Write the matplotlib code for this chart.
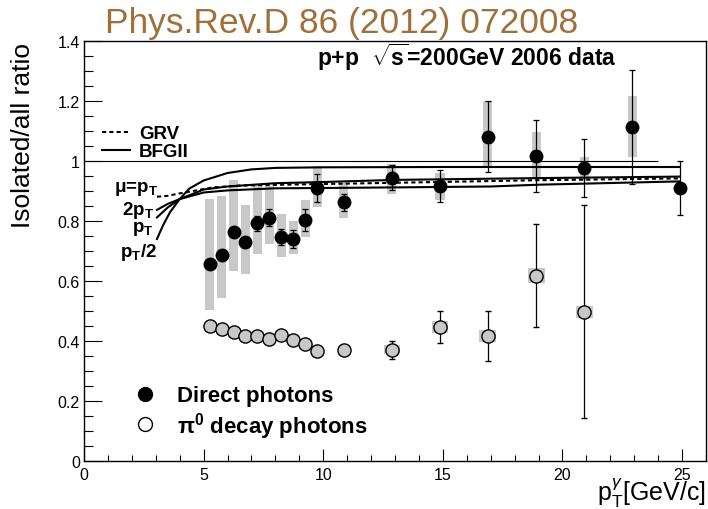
import matplotlib
matplotlib.use('Agg')
import matplotlib.pyplot as plt
from matplotlib.lines import Line2D
from matplotlib.ticker import MultipleLocator, FuncFormatter
import numpy as np

plt.rcParams['font.family'] = ['Liberation Sans', 'DejaVu Sans']
plt.rcParams['mathtext.fontset'] = 'custom'
plt.rcParams['mathtext.rm'] = 'Liberation Sans'
plt.rcParams['mathtext.bf'] = 'Liberation Sans:bold'
plt.rcParams['mathtext.it'] = 'Liberation Sans:italic'
plt.rcParams['mathtext.sf'] = 'Liberation Sans'

# direct photons: isolated/all ratio, stat errors, syst. band edges
pt_dir = [5.25, 5.75, 6.25, 6.75, 7.25, 7.75, 8.25, 8.75, 9.25, 9.75,
          10.85, 12.87, 14.88, 16.88, 18.9, 20.91, 22.91, 24.9]
ratio_dir = [0.657, 0.688, 0.763, 0.729, 0.792, 0.811, 0.748, 0.740, 0.804, 0.910,
             0.862, 0.944, 0.916, 1.081, 1.017, 0.976, 1.112, 0.909]
stat_dir = [0.010, 0.010, 0.012, 0.012, 0.024, 0.028, 0.027, 0.029, 0.037, 0.046,
            0.028, 0.042, 0.053, 0.119, 0.119, 0.097, 0.190, 0.090]
sys_lo_dir = [0.503, 0.543, 0.634, 0.623, 0.690, 0.722, 0.680, 0.690, 0.748, 0.847,
              0.811, 0.890, 0.869, 0.980, 0.943, 0.934, 1.013, 0.905]
sys_hi_dir = [0.873, 0.882, 0.937, 0.852, 0.918, 0.918, 0.823, 0.800, 0.869, 0.984,
              0.926, 0.990, 0.961, 1.200, 1.098, 1.013, 1.216, 0.913]

# pi0 decay photons
pt_pi0 = [5.25, 5.75, 6.25, 6.75, 7.25, 7.75, 8.25, 8.75, 9.25, 9.75,
          10.85, 12.87, 14.88, 16.88, 18.9, 20.91]
ratio_pi0 = [0.449, 0.440, 0.431, 0.418, 0.417, 0.407, 0.421, 0.403, 0.391, 0.368,
             0.370, 0.371, 0.447, 0.416, 0.618, 0.497]
stat_pi0 = [0.005, 0.005, 0.005, 0.005, 0.005, 0.005, 0.005, 0.005, 0.006, 0.006,
            0.008, 0.030, 0.054, 0.083, 0.172, 0.355]
sys_pi0 = [0, 0, 0, 0, 0, 0, 0, 0, 0, 0,
           0, 0.015, 0.02, 0.02, 0.024, 0.02]

# NLO predictions
bfg_half_x = [3.05, 3.3, 3.6, 4.0, 4.4, 5.0, 6.0, 7.0, 8.0, 10.0, 15.0, 20.0, 24.9]
bfg_half_y = [0.740, 0.785, 0.830, 0.873, 0.908, 0.935, 0.960, 0.972, 0.977, 0.979, 0.980, 0.980, 0.980]
bfg_one_x = [3.05, 3.5, 4.0, 5.0, 6.0, 8.0, 10.0, 13.0, 19.0, 24.9]
bfg_one_y = [0.812, 0.845, 0.873, 0.905, 0.915, 0.926, 0.930, 0.937, 0.943, 0.948]
bfg_two_x = [3.05, 3.5, 4.0, 5.0, 6.0, 8.0, 10.0, 13.0, 17.0, 19.0, 24.9]
bfg_two_y = [0.837, 0.857, 0.873, 0.895, 0.902, 0.909, 0.910, 0.912, 0.915, 0.921, 0.932]
grv_x = [3.05, 3.5, 4.0, 5.4, 6.5, 9.0, 12.0, 19.0, 24.9]
grv_y = [0.881, 0.884, 0.892, 0.912, 0.918, 0.922, 0.926, 0.936, 0.942]

gray = '#c8c8c8'

fig = plt.figure(figsize=(7.08, 5.10), dpi=100)
ax = fig.add_axes([84/708, 48/510, 622/708, 420/510])

# systematic boxes
lo = np.array(sys_lo_dir)
hi = np.array(sys_hi_dir)
ax.bar(pt_dir, hi - lo, bottom=lo, width=0.38, color=gray, zorder=1)
sp = np.array(sys_pi0)
ax.bar(pt_pi0, 2 * sp, bottom=np.array(ratio_pi0) - sp, width=0.7, color=gray, zorder=1)

ax.hlines(1.0, 0, 24, color='black', lw=0.8, zorder=2)

grv_line, = ax.plot(grv_x, grv_y, color='black', lw=1.5, dashes=(2, 1.5), zorder=2, label='GRV')
bfg_line, = ax.plot(bfg_one_x, bfg_one_y, color='black', lw=1.5, zorder=2, label='BFGII')
ax.plot(bfg_half_x, bfg_half_y, color='black', lw=1.5, zorder=2)
ax.plot(bfg_two_x, bfg_two_y, color='black', lw=1.5, zorder=2)

ax.errorbar(pt_dir, ratio_dir, yerr=stat_dir, fmt='o', color='black', ms=9,
            capsize=2.5, elinewidth=0.9, capthick=0.9, zorder=4)
ax.errorbar(pt_pi0, ratio_pi0, yerr=stat_pi0, fmt='o', mfc=gray, mec='black', mew=1.0,
            ecolor='black', ms=9.5, capsize=2.5, elinewidth=0.9, capthick=0.9, zorder=4)

# axes style
ax.set_xlim(0, 26)
ax.set_ylim(0, 1.4)
ax.xaxis.set_major_locator(MultipleLocator(5))
ax.xaxis.set_minor_locator(MultipleLocator(1))
ax.yaxis.set_major_locator(MultipleLocator(0.2))
ax.yaxis.set_minor_locator(MultipleLocator(0.05))
fmt = FuncFormatter(lambda v, p: '%g' % round(v, 2))
ax.xaxis.set_major_formatter(fmt)
ax.yaxis.set_major_formatter(fmt)
ax.tick_params(axis='x', which='major', direction='in', length=8.6, width=0.8, labelsize=11.5, pad=4)
ax.tick_params(axis='x', which='minor', direction='in', length=4.3, width=0.8)
ax.tick_params(axis='y', which='major', direction='in', length=13, width=0.8, labelsize=11.5, pad=3)
ax.tick_params(axis='y', which='minor', direction='in', length=6.5, width=0.8)
for s in ax.spines.values():
    s.set_linewidth(1.0)

ax.set_xlabel(r'p$_{\mathrm{T}}^{\gamma}$[GeV/c]', fontsize=18, loc='right', labelpad=-4)
fig.text(23/708, 1 - 43/510, 'Isolated/all ratio', rotation=90, ha='center', va='top', fontsize=19)

fig.text(342/708, 1 - 33/510, 'Phys.Rev.D 86 (2012) 072008', ha='center', va='baseline',
         fontsize=25.5, color='#a0703c')
fig.text(317/708, 1 - 66/510, r'p+p  $\mathbf{\sqrt{s}}$=200GeV 2006 data', ha='left', va='baseline',
         fontsize=16.5, fontweight='bold')

# scale labels
lab = dict(fontsize=13.5, fontweight='bold', va='baseline')
ax.text(1.25, 0.901, 'μ=p$_{\\mathbf{T}}$', **lab)
ax.text(1.6, 0.823, '2p$_{\\mathbf{T}}$', **lab)
ax.text(2.0, 0.765, 'p$_{\\mathbf{T}}$', **lab)
ax.text(1.5, 0.682, 'p$_{\\mathbf{T}}$/2', **lab)

leg1 = ax.legend(handles=[grv_line, bfg_line], loc='upper left', bbox_to_anchor=(0.0285, 0.80),
                 frameon=False, borderpad=0, borderaxespad=0, handlelength=1.5,
                 handletextpad=0.5, labelspacing=0.05, prop={'weight': 'bold', 'size': 13.5})
ax.add_artist(leg1)

h_dir = Line2D([], [], ls='none', marker='o', color='black', ms=10)
h_pi0 = Line2D([], [], ls='none', marker='o', mfc='white', mec='black', mew=1.0, ms=10)
ax.legend(handles=[h_dir, h_pi0], labels=['Direct photons', 'π$^{\\mathbf{0}}$ decay photons'],
          loc='upper left', bbox_to_anchor=(0.080, 0.18), frameon=False, borderpad=0,
          borderaxespad=0, handlelength=1.0, handletextpad=0.94, labelspacing=0.15,
          prop={'weight': 'bold', 'size': 16})

fig.savefig('out.png', dpi=100)
